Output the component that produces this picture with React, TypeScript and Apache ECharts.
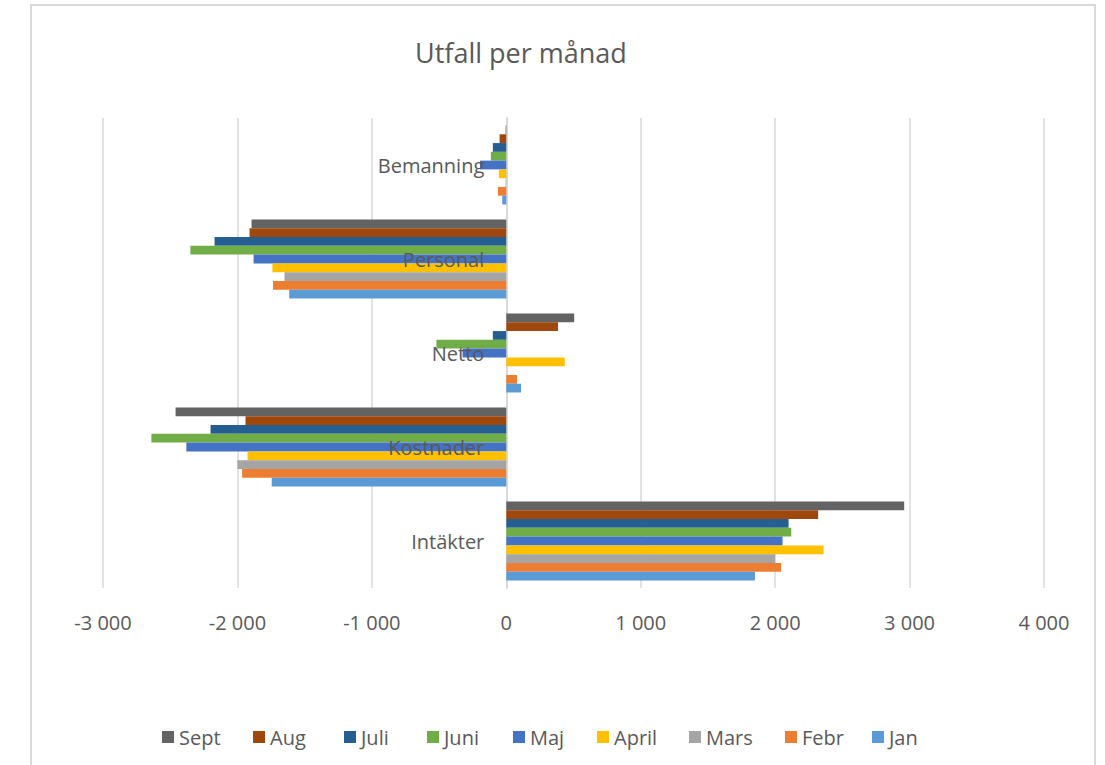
import React, { useEffect, useRef } from "react";
import * as echarts from "echarts";

const categories = ["Intäkter", "Kostnader", "Netto", "Personal", "Bemanning"];
const months = ["Sept", "Aug", "Juli", "Juni", "Maj", "April", "Mars", "Febr", "Jan"];
const colors = ["#636363", "#9E480E", "#255E91", "#70AD47", "#4472C4", "#FFC000", "#A5A5A5", "#ED7D31", "#5B9BD5"];

// values per month: [Intäkter, Kostnader, Netto, Personal, Bemanning]
const sept = [2960, -2460, 505, -1895, -5];
const aug = [2320, -1940, 385, -1910, -50];
const juli = [2100, -2200, -100, -2170, -100];
const juni = [2120, -2640, -520, -2350, -115];
const maj = [2055, -2380, -325, -1880, -195];
const april = [2360, -1925, 435, -1740, -55];
const mars = [2000, -2000, 0, -1650, -5];
const febr = [2045, -1965, 80, -1735, -62];
const jan = [1850, -1745, 110, -1615, -30];

const seriesValues = [sept, aug, juli, juni, maj, april, mars, febr, jan];

const xMin = -3000;
const xMax = 4000;
const xInterval = 1000;

const FONT = "'Open Sans', 'Liberation Sans', sans-serif";
const legendLefts = [157, 248, 339, 422, 508, 592, 684, 780, 867];

function fmt(v: number): string {
  const s = Math.abs(v).toString().replace(/\B(?=(\d{3})+(?!\d))/g, " ");
  return (v < 0 ? "-" : "") + s;
}

export default function App() {
  const ref = useRef<HTMLDivElement>(null);
  useEffect(() => {
    if (!ref.current) return;
    const chart = echarts.init(ref.current, undefined, { renderer: "svg" });
    const barSeries = months.map((m, i) => ({
      name: m,
      type: "bar",
      data: seriesValues[i],
      barGap: "0%",
      barCategoryGap: "16%",
      itemStyle: { color: colors[i] },
      z: 2,
    }));
    const labelSeries = {
      name: "labels",
      type: "scatter",
      data: categories.map((c) => [0, c]),
      symbolSize: 0,
      silent: true,
      z: 10,
      itemStyle: { opacity: 1 },
      label: {
        show: true,
        position: "left",
        distance: 22,
        formatter: (p: any) => p.value[1],
        fontFamily: FONT,
        fontSize: 20,
        color: "#595959",
        opacity: 1,
      },
    };
    chart.setOption({
      animation: false,
      backgroundColor: "#ffffff",
      title: {
        text: "Utfall per månad",
        left: 410,
        top: 34,
        textStyle: { fontFamily: FONT, fontSize: 27, fontWeight: "normal", color: "#595959" },
      },
      graphic: [
        {
          type: "rect",
          shape: { x: 31, y: 5, width: 1064, height: 800 },
          style: { fill: "none", stroke: "#d9d9d9", lineWidth: 2 },
          silent: true,
        },
      ],
      legend: months.map((m, i) => ({
        data: [m],
        left: legendLefts[i],
        top: 722,
        itemWidth: 12,
        itemHeight: 12,
        itemGap: 0,
        icon: "rect",
        textStyle: { fontFamily: FONT, fontSize: 20, color: "#595959" },
      })),
      grid: { left: 103, right: 61, top: 118, bottom: 177, containLabel: false, outerBoundsMode: "none" },
      xAxis: {
        type: "value",
        min: xMin,
        max: xMax,
        interval: xInterval,
        axisLine: { show: false },
        axisTick: { show: false },
        axisLabel: {
          formatter: (v: number) => fmt(v),
          fontFamily: FONT,
          fontSize: 20,
          color: "#595959",
          margin: 24,
        },
        splitLine: { show: true, lineStyle: { color: "#d9d9d9", width: 1.5 } },
      },
      yAxis: {
        type: "category",
        data: categories,
        axisLine: { show: true, onZero: true, lineStyle: { color: "#d9d9d9", width: 2 } },
        axisTick: { show: false },
        axisLabel: { show: false },
      },
      series: [...barSeries, labelSeries],
    });
    return () => chart.dispose();
  }, []);
  return <div ref={ref} style={{ position: "fixed", left: 0, top: 0, width: 1105, height: 765 }} />;
}
